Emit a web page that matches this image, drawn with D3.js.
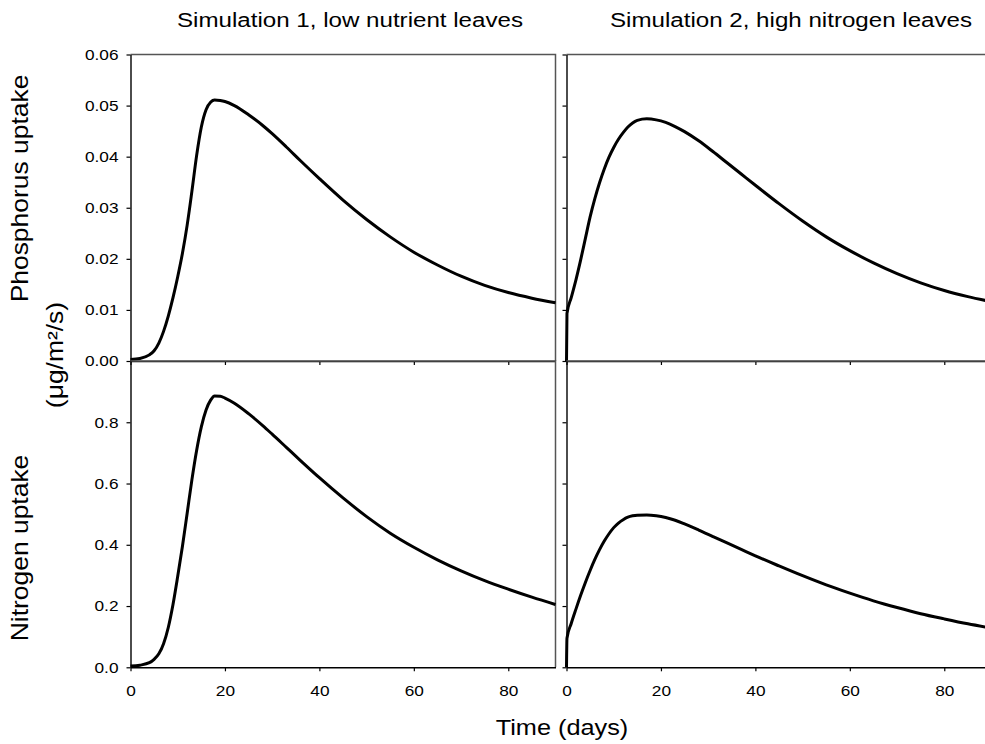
<!DOCTYPE html>
<html><head><meta charset="utf-8">
<script src="https://cdn.jsdelivr.net/npm/d3@7"></script>
<style>
body{margin:0;background:#fff}
svg{display:block}
text{font-family:"Liberation Sans",Arial,Helvetica,sans-serif;fill:#000}
</style>
</head><body>
<svg id="chart" width="985" height="744"></svg>
<script>
// ---------- data ----------
const panelTitles = ["Simulation 1, low nutrient leaves", "Simulation 2, high nitrogen leaves"];
const xTickValues = [0, 20, 40, 60, 80];
const pTickValues = [0, 0.01, 0.02, 0.03, 0.04, 0.05, 0.06];
const pTickLabels = ["0.00", "0.01", "0.02", "0.03", "0.04", "0.05", "0.06"];
const nTickValues = [0, 0.2, 0.4, 0.6, 0.8];
const nTickLabels = ["0.0", "0.2", "0.4", "0.6", "0.8"];

// Simulation 1 (low nutrient leaves)
const time1 = [0,2,4,5,6,7,8,9,10,11,12,13,14,15,16,17,17.8,19,20,22,25,28,30,33,36,40,45,50,55,60,65,70,75,80,85,90];
const phosphorus1 = [0.0003,0.0005,0.0012,0.0020,0.0035,0.0058,0.0088,0.0124,0.0165,0.0211,0.0266,0.0332,0.0402,0.0458,0.0492,0.0507,0.0511,0.0510,0.0508,0.0500,0.0482,0.0461,0.0445,0.0419,0.0392,0.0357,0.0315,0.0277,0.0243,0.0213,0.0188,0.0166,0.0148,0.0134,0.0123,0.0114];
const nitrogen1 = [0.004,0.007,0.015,0.026,0.044,0.077,0.130,0.205,0.297,0.395,0.503,0.612,0.708,0.785,0.840,0.873,0.886,0.885,0.879,0.862,0.828,0.789,0.761,0.718,0.675,0.619,0.553,0.492,0.438,0.392,0.351,0.315,0.283,0.255,0.229,0.205];

// Simulation 2 (high nitrogen leaves)
const time2 = [0,0.1,1,2,3,4,5,6,7,8,9,10,11,12,13,14,15,17,19,21,23,25,28,31,34,37,40,45,50,55,60,65,70,75,80,85,90];
const phosphorus2 = [0,0.0093,0.0124,0.0159,0.0198,0.0240,0.0282,0.0318,0.0349,0.0376,0.0399,0.0418,0.0434,0.0447,0.0458,0.0466,0.0471,0.0474,0.0472,0.0467,0.0459,0.0449,0.0431,0.0410,0.0388,0.0366,0.0344,0.0308,0.0274,0.0243,0.0216,0.0192,0.0171,0.0153,0.0138,0.0126,0.0116];
const nitrogen2 = [0,0.095,0.143,0.190,0.235,0.277,0.316,0.352,0.384,0.412,0.436,0.456,0.471,0.482,0.490,0.4945,0.4965,0.497,0.4945,0.489,0.480,0.468,0.448,0.427,0.406,0.385,0.364,0.331,0.299,0.269,0.242,0.217,0.195,0.175,0.158,0.142,0.128];

// ---------- layout ----------
const svg = d3.select("#chart");
const STRETCH = 1.15;
const FONT_TICK = 15;

const xLeft = d3.scaleLinear().domain([0, 90]).range([130.5, 555.5]);
const xRight = d3.scaleLinear().domain([0, 90]).range([566.5, 991.5]);
const yP = d3.scaleLinear().domain([0, 0.06]).range([361, 54.5]);
const yN = d3.scaleLinear().domain([0, 1]).range([667.3, 361]);

const panels = [
  {x: xLeft, y: yP, t: time1, v: phosphorus1, yt: pTickValues, yl: pTickLabels, labels: true, xLabels: false},
  {x: xRight, y: yP, t: time2, v: phosphorus2, yt: pTickValues, yl: pTickLabels, labels: false, xLabels: false},
  {x: xLeft, y: yN, t: time1, v: nitrogen1, yt: nTickValues, yl: nTickLabels, labels: true, xLabels: true},
  {x: xRight, y: yN, t: time2, v: nitrogen2, yt: nTickValues, yl: nTickLabels, labels: false, xLabels: true}
];

panels.forEach((p, i) => {
  const g = svg.append("g");
  const [x0, x1] = p.x.range();
  const [yb, yt] = p.y.range();
  // frame (top and right) in grey
  g.append("path")
    .attr("d", `M${x0},${yt}H${x1}V${yb}`)
    .attr("fill", "none").attr("stroke", "#555").attr("stroke-width", 1.5);

  // y axis
  const ya = d3.axisLeft(p.y).tickValues(p.yt).tickSize(4).tickSizeOuter(0).tickPadding(8)
    .tickFormat((d, k) => p.labels ? p.yl[k] : "");
  const yg = g.append("g").attr("transform", `translate(${x0},0)`).call(ya);
  yg.select(".domain").attr("stroke", "#000").attr("stroke-width", 1.4);
  yg.selectAll(".tick line").attr("stroke", "#000").attr("stroke-width", 1.2);
  yg.selectAll(".tick text")
    .attr("font-size", FONT_TICK).attr("font-family", null)
    .attr("transform", function(){ const xx = +d3.select(this).attr("x"); d3.select(this).attr("x", 0); return `translate(${xx},0) scale(${STRETCH},1)`; });

  // x axis
  const xa = d3.axisBottom(p.x).tickValues(xTickValues).tickSize(4).tickSizeOuter(0).tickPadding(14)
    .tickFormat(d => p.xLabels ? d : "");
  const xg = g.append("g").attr("transform", `translate(0,${yb})`).call(xa);
  xg.select(".domain").attr("stroke", "#000").attr("stroke-width", 1.4);
  xg.selectAll(".tick line").attr("stroke", "#000").attr("stroke-width", 1.2);
  xg.selectAll(".tick text")
    .attr("font-size", FONT_TICK).attr("font-family", null)
    .attr("transform", function(){ const yy = +d3.select(this).attr("y"); d3.select(this).attr("y", 0); return `translate(0,${yy}) scale(${STRETCH},1)`; });

  // curve
  const line = d3.line()
    .x((d, k) => p.x(p.t[k]))
    .y(d => p.y(d))
    .curve(d3.curveMonotoneX);
  g.append("path")
    .attr("d", line(p.v))
    .attr("fill", "none").attr("stroke", "#000").attr("stroke-width", 3)
    .attr("stroke-linejoin", "round");
});

// ---------- titles ----------
const titleX = [350, 791];
panelTitles.forEach((t, i) => {
  svg.append("text")
    .attr("transform", `translate(${titleX[i]},27) scale(${STRETCH},1)`)
    .attr("text-anchor", "middle").attr("font-size", 21).text(t);
});

svg.append("text")
  .attr("transform", `translate(562,735) scale(${STRETCH},1)`)
  .attr("text-anchor", "middle").attr("font-size", 22).text("Time (days)");

function yLabel(txt, cx, cy, size) {
  svg.append("text")
    .attr("transform", `translate(${cx},${cy}) rotate(-90) scale(${STRETCH},1)`)
    .attr("text-anchor", "middle").attr("font-size", size).text(txt);
}
yLabel("Phosphorus uptake", 28, 188.5, 23);
yLabel("(μg/m²/s)", 63, 355, 23);
yLabel("Nitrogen uptake", 28, 548, 23);
</script>
</body></html>
